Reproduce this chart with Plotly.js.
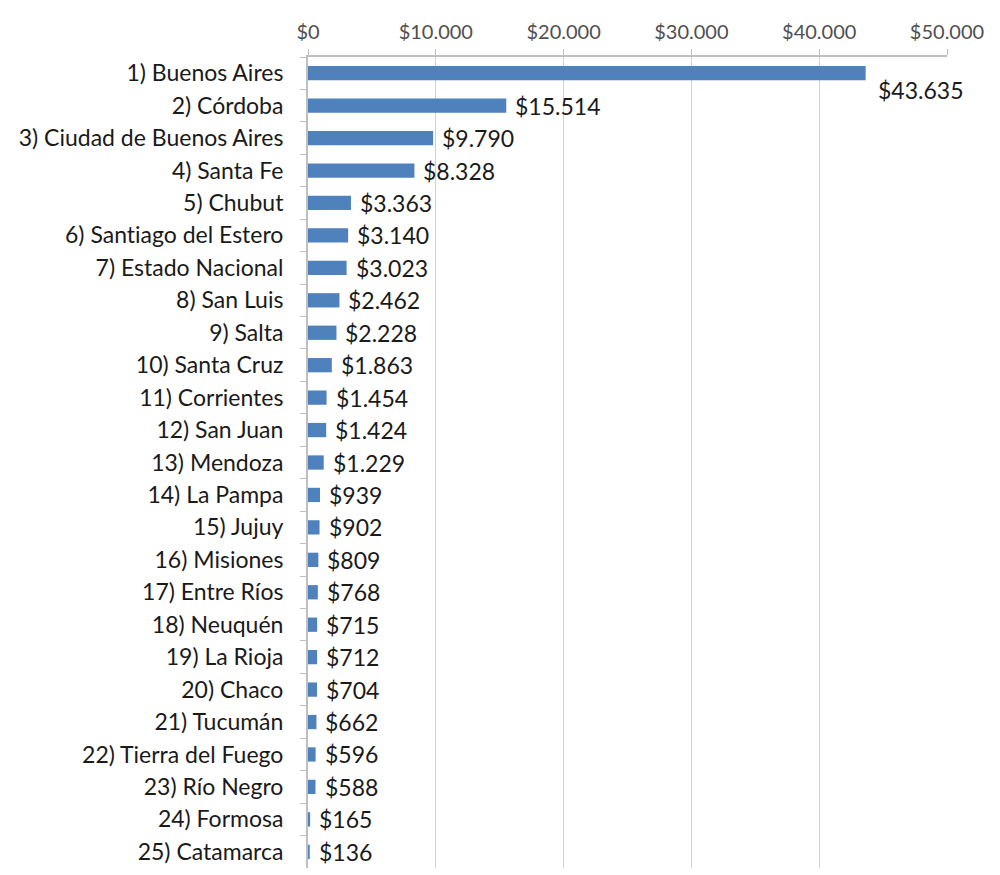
<!DOCTYPE html>
<html>
<head>
<meta charset="utf-8">
<script src="https://cdn.plot.ly/plotly-3.0.1.min.js"></script>
<style>
html,body{margin:0;padding:0;background:#fff;}
#chart{width:1000px;height:875px;}
#chart svg text{font-variant-ligatures:none !important;font-feature-settings:"liga" 0,"clig" 0 !important;}
</style>
</head>
<body>
<div id="chart"></div>
<script>
// Provinces ranked by amount
const categories = [
  "1) Buenos Aires", "2) Córdoba", "3) Ciudad de Buenos Aires", "4) Santa Fe",
  "5) Chubut", "6) Santiago del Estero", "7) Estado Nacional", "8) San Luis",
  "9) Salta", "10) Santa Cruz", "11) Corrientes", "12) San Juan", "13) Mendoza",
  "14) La Pampa", "15) Jujuy", "16) Misiones", "17) Entre Ríos", "18) Neuquén",
  "19) La Rioja", "20) Chaco", "21) Tucumán", "22) Tierra del Fuego",
  "23) Río Negro", "24) Formosa", "25) Catamarca"
];
const values = [
  43635, 15514, 9790, 8328, 3363, 3140, 3023, 2462, 2228, 1863, 1454, 1424,
  1229, 939, 902, 809, 768, 715, 712, 704, 662, 596, 588, 165, 136
];
const tickValues = [0, 10000, 20000, 30000, 40000, 50000];
const tickLabels = ["$0", "$10.000", "$20.000", "$30.000", "$40.000", "$50.000"];

const FONT = "Lato, 'Open Sans', sans-serif";

function money(v) {
  return "$" + v.toString().replace(/\B(?=(\d{3})+(?!\d))/g, ".");
}

const trace = {
  type: "bar",
  orientation: "h",
  y: categories,
  x: values,
  marker: {color: "#4f81bd"},
  hoverinfo: "none"
};

// Value labels sit just past the end of each bar; the longest bar's label drops below its end
const annotations = values.map((v, i) => ({
  x: v,
  y: categories[i],
  xref: "x",
  yref: "y",
  text: money(v),
  showarrow: false,
  xanchor: "left",
  yanchor: "middle",
  xshift: i === 0 ? 10 : 7,
  yshift: i === 0 ? -17 : 0,
  font: {family: FONT, size: 23, color: "#1a1a1a"}
}));

const layout = {
  width: 1000,
  height: 875,
  margin: {l: 308, r: 53, t: 57, b: 7},
  paper_bgcolor: "#ffffff",
  plot_bgcolor: "#ffffff",
  bargap: 0.56,
  showlegend: false,
  xaxis: {
    side: "top",
    automargin: false,
    range: [0, 50000],
    tickvals: tickValues,
    ticktext: tickLabels,
    showgrid: true,
    gridcolor: "#d0d0d0",
    gridwidth: 1,
    zeroline: false,
    showline: true,
    linecolor: "#bfbfbf",
    linewidth: 2,
    ticks: "outside",
    ticklen: 6,
    tickcolor: "#bfbfbf",
    ticklabelstandoff: 2,
    tickfont: {family: FONT, size: 20, color: "#505050"},
    fixedrange: true
  },
  yaxis: {
    type: "category",
    automargin: false,
    // one slot per category, first category at the top
    range: [categories.length - 0.5, -0.5],
    autorange: false,
    showgrid: false,
    zeroline: false,
    showline: true,
    linecolor: "#bfbfbf",
    linewidth: 2,
    ticks: "outside",
    tickson: "boundaries",
    ticklen: 6,
    tickcolor: "#bfbfbf",
    ticklabelstandoff: 18,
    tickfont: {family: FONT, size: 23, color: "#1a1a1a"},
    fixedrange: true
  },
  annotations: annotations
};

Plotly.newPlot("chart", [trace], layout, {staticPlot: true, displayModeBar: false});
</script>
</body>
</html>
